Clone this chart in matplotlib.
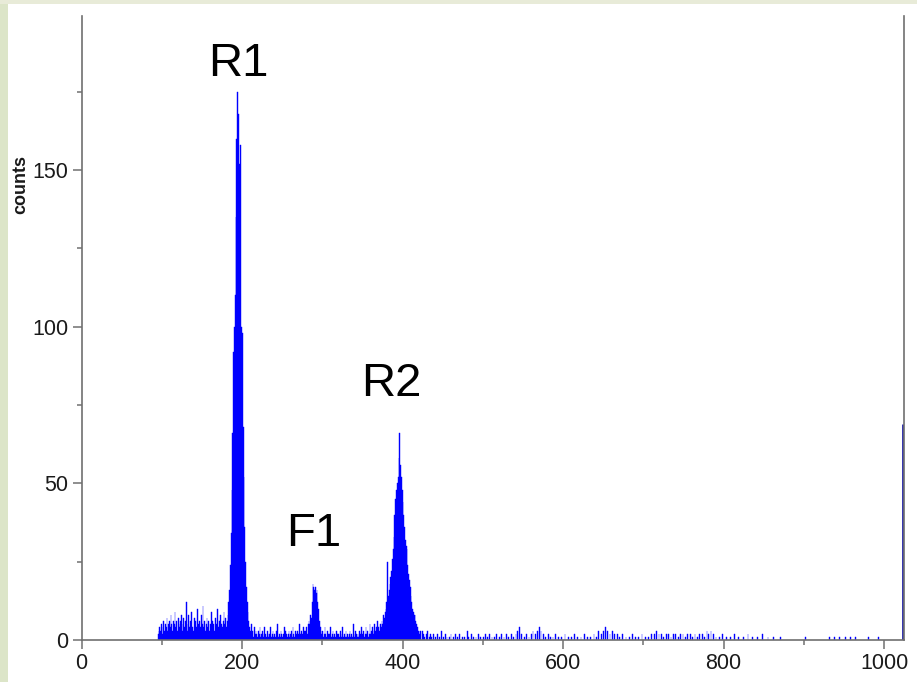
import numpy as np
import matplotlib.pyplot as plt
from matplotlib.patches import Rectangle
from matplotlib.ticker import FixedLocator, MultipleLocator

plt.rcParams['font.family'] = ['Liberation Sans', 'DejaVu Sans']

# cuentas por canal (se leen del grafico, a ojo)
# fondo antes del primer pico, canales 95..182
low_start = 95
low_counts = [2, 3, 4, 3, 5, 2, 4, 6, 3, 5,
              4, 7, 3, 5, 6, 4, 8, 5, 3, 6,
              5, 9, 4, 6, 3, 7, 5, 4, 6, 8,
              3, 5, 7, 4, 6, 12, 5, 3, 8, 4,
              6, 5, 9, 4, 3, 7, 5, 6, 4, 10,
              5, 3, 6, 4, 8, 5, 11, 4, 6, 3,
              5, 7, 4, 6, 3, 5, 9, 4, 6, 5,
              3, 7, 4, 5, 10, 4, 6, 3, 8, 5,
              4, 6, 9, 5, 7, 4, 6, 8]

# pico R1, canales 183..208
r1_start = 183
r1_counts = [12, 16, 24, 34, 48, 66, 92, 100, 110, 135,
             160, 175, 168, 152, 140, 158, 100, 98, 68, 52,
             36, 25, 17, 12, 9, 6]

# entre R1 y F1, canales 209..283
mid_start = 209
mid_counts = [4, 3, 5, 2, 3, 1, 4, 2, 3, 2,
              1, 3, 2, 4, 1, 2, 3, 1, 2, 4,
              2, 1, 3, 2, 1, 2, 4, 1, 2, 3,
              1, 2, 1, 3, 2, 5, 1, 2, 1, 3,
              2, 1, 2, 4, 1, 3, 2, 1, 2, 3,
              1, 2, 3, 1, 4, 2, 1, 3, 2, 1,
              3, 2, 5, 2, 1, 3, 2, 4, 3, 2,
              3, 4, 2, 5, 6]

# pico F1, canales 284..299
f1_start = 284
f1_counts = [5, 8, 7, 12, 18, 17, 16, 17, 15, 16, 12, 10, 6, 4, 3, 2]

# entre F1 y R2, canales 300..369
gap_start = 300
gap_counts = [3, 1, 2, 4, 2, 1, 3, 2, 1, 2,
              4, 1, 2, 3, 1, 2, 1, 3, 2, 1,
              2, 1, 3, 1, 2, 4, 1, 2, 1, 3,
              1, 2, 1, 2, 3, 1, 2, 1, 5, 2,
              1, 3, 2, 1, 2, 1, 3, 2, 4, 1,
              2, 3, 1, 2, 4, 2, 3, 1, 2, 5,
              2, 3, 4, 2, 3, 5, 3, 4, 6, 3]

# pico R2, canales 370..422
r2_start = 370
r2_counts = [4, 3, 5, 4, 6, 5, 8, 7, 9, 10,
             12, 25, 14, 16, 18, 20, 22, 26, 29, 33,
             40, 45, 48, 50, 52, 58, 66, 56, 52, 48,
             44, 40, 36, 32, 30, 29, 24, 21, 19, 17,
             14, 12, 10, 9, 8, 8, 6, 5, 4, 3,
             3, 2, 3]

# cola dispersa
tail_channels = [424, 426, 427, 429, 431, 433, 434, 436, 438, 441,
                 443, 446, 448, 451, 453, 455, 458, 460, 463, 466,
                 468, 471, 474, 477, 480, 482, 485, 488, 491, 494,
                 497, 500, 503, 505, 508, 511, 514, 517, 520, 523,
                 526, 529, 532, 535, 538, 541, 543, 545, 548, 551,
                 554, 557, 560, 562, 565, 568, 570, 572, 575, 578,
                 581, 584, 587, 590, 594, 598, 602, 606, 610, 614,
                 618, 622, 626, 630, 634, 638, 641, 644, 647, 650,
                 652, 655, 658, 661, 664, 667, 670, 674, 678, 682,
                 686, 690, 694, 698, 702, 706, 710, 713, 716, 719,
                 722, 725, 728, 731, 734, 737, 740, 743, 746, 749,
                 752, 755, 758, 761, 764, 767, 770, 773, 776, 779,
                 781, 784, 787, 790, 794, 798, 803, 808, 813, 818,
                 824, 830, 836, 842, 848, 855, 862, 870, 902, 932,
                 938, 944, 951, 958, 964, 980, 993]
tail_counts = [3, 2, 1, 2, 3, 1, 2, 1, 2, 1,
               2, 1, 3, 1, 2, 1, 1, 2, 1, 2,
               1, 2, 1, 1, 3, 1, 2, 1, 1, 2,
               1, 1, 2, 1, 2, 1, 1, 2, 1, 2,
               1, 2, 1, 2, 1, 2, 3, 4, 2, 1,
               2, 1, 2, 3, 2, 3, 4, 3, 2, 1,
               2, 1, 1, 2, 1, 1, 2, 1, 1, 2,
               1, 1, 2, 1, 1, 2, 1, 3, 2, 3,
               4, 3, 2, 3, 2, 2, 1, 2, 1, 1,
               2, 1, 1, 2, 1, 1, 2, 2, 3, 2,
               2, 1, 2, 2, 1, 2, 2, 1, 2, 2,
               1, 2, 2, 1, 2, 1, 2, 2, 1, 3,
               2, 3, 2, 1, 1, 2, 1, 1, 2, 1,
               1, 2, 1, 1, 2, 1, 1, 1, 1, 1,
               1, 1, 1, 1, 1, 1, 1]

# ultimo canal (desborde)
last_channel = 1023
last_count = 69

n_channels = 1024
peak_names = ["R1", "F1", "R2"]
peak_x = [195, 289, 386]
peak_y = [180, 30, 78]
y_ticks = [0, 50, 100, 150]
y_minor = [25, 75, 125, 175]


def arma_espectro():
    counts = np.zeros(n_channels)
    segmentos = [(low_start, low_counts), (r1_start, r1_counts), (mid_start, mid_counts),
                 (f1_start, f1_counts), (gap_start, gap_counts), (r2_start, r2_counts)]
    for inicio, seg in segmentos:
        counts[inicio:inicio + len(seg)] = seg
    counts[tail_channels] = tail_counts
    counts[last_channel] = last_count
    return counts


def main():
    counts = arma_espectro()
    canales = np.arange(n_channels)

    fig = plt.figure(figsize=(9.17, 6.82), dpi=100, facecolor='white')
    # bordes de color de la diapositiva
    fig.patches.append(Rectangle((0, 0), 8 / 917, 1, transform=fig.transFigure,
                                 facecolor='#dce5c8', edgecolor='none', zorder=0))
    fig.patches.append(Rectangle((0, 1 - 4 / 682), 1, 4 / 682, transform=fig.transFigure,
                                 facecolor='#e8ebd8', edgecolor='none', zorder=0))

    ax = fig.add_axes([81.5 / 917, 1 - 640 / 682, 822.6 / 917, 624 / 682])

    mask = counts > 0
    mask[last_channel] = False
    ax.bar(canales[mask], counts[mask], width=1.0, align='edge',
           color='#0000ff', edgecolor='#0000ff', linewidth=0.3)
    ax.vlines(last_channel + 1, 0, counts[last_channel], color='#2020a8', lw=2)

    for nombre, x, y in zip(peak_names, peak_x, peak_y):
        ax.text(x, y, nombre, fontsize=34, ha='center', va='baseline', color='black')

    ax.set_xlim(0, 1025)
    ax.set_ylim(0, 624 / 3.133)
    ax.xaxis.set_major_locator(MultipleLocator(200))
    ax.xaxis.set_minor_locator(MultipleLocator(100))
    ax.yaxis.set_major_locator(FixedLocator(y_ticks))
    ax.yaxis.set_minor_locator(FixedLocator(y_minor))

    gris = '#707070'
    ax.spines['top'].set_visible(False)
    for lado in ['left', 'bottom', 'right']:
        ax.spines[lado].set_color(gris)
        ax.spines[lado].set_linewidth(1.2)
    ax.tick_params(which='major', direction='out', length=6.5, width=1.1, color=gris,
                   labelsize=15.5, labelcolor='#1a1a1a', pad=3)
    ax.tick_params(which='minor', direction='out', length=3.5, width=1.1, color=gris)
    ax.tick_params(axis='y', which='both', right=False)

    ax.text(-0.074, 0.73, 'counts', transform=ax.transAxes, rotation=90,
            fontsize=13, fontweight='bold', ha='center', va='center', color='#1a1a1a')

    fig.savefig('out.png', dpi=100, facecolor=fig.get_facecolor())


if __name__ == "__main__":
    main()
